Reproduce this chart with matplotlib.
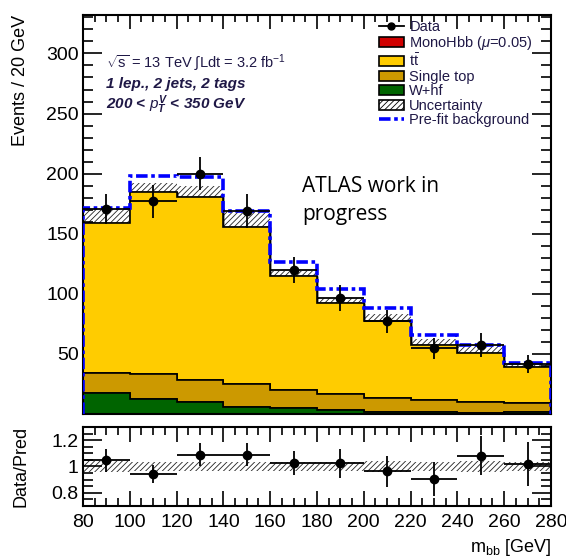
import matplotlib
matplotlib.use("Agg")
import matplotlib.pyplot as plt
from matplotlib.lines import Line2D
from matplotlib.patches import Patch
from matplotlib.ticker import MultipleLocator
import numpy as np

# =============================================================================
# DATA
# =============================================================================
bin_edges = [80, 100, 120, 140, 160, 180, 200, 220, 240, 260, 280]

w_hf = [17.8, 12.8, 10.0, 6.1, 4.7, 3.6, 1.7, 1.4, 1.2, 1.5]
single_top = [16.4, 20.2, 18.0, 18.6, 15.0, 13.1, 11.3, 10.3, 8.8, 7.4]
ttbar = [124.8, 152.0, 152.5, 130.8, 95.1, 75.6, 64.0, 45.8, 41.0, 30.3]
signal = [0.0, 0.0, 0.0, 0.0, 0.0, 0.0, 0.0, 0.0, 0.0, 0.0]
bkg_unc = [11.5, 7.0, 9.5, 12.5, 4.5, 4.5, 6.5, 5.0, 5.5, 3.0]

prefit_bkg = [171.4, 198.0, 197.5, 168.6, 126.5, 104.3, 88.0, 65.5, 57.3, 42.8]

data = [170.5, 177.0, 200.0, 169.0, 119.7, 96.4, 77.0, 54.7, 57.5, 41.2]
data_err = [12.8, 13.6, 14.0, 14.0, 10.8, 10.8, 9.7, 8.8, 9.7, 7.5]

ratio = [1.046, 0.944, 1.09, 1.09, 1.026, 1.026, 0.962, 0.903, 1.083, 1.02]
ratio_err = [0.087, 0.07, 0.085, 0.085, 0.09, 0.11, 0.115, 0.128, 0.15, 0.165]
ratio_unc = [0.04, 0.035, 0.035, 0.035, 0.035, 0.035, 0.04, 0.035, 0.04, 0.035]

# =============================================================================
# STYLE
# =============================================================================
plt.rcParams["font.family"] = ["Liberation Sans", "DejaVu Sans"]
plt.rcParams["mathtext.fontset"] = "custom"
plt.rcParams["mathtext.rm"] = "Liberation Sans"
plt.rcParams["mathtext.it"] = "Liberation Sans:italic"
plt.rcParams["mathtext.bf"] = "Liberation Sans:bold:italic"
plt.rcParams["hatch.linewidth"] = 0.6

TEXT_COL = "#1f1846"
C_TTBAR = "#ffcc00"
C_STOP = "#cc9900"
C_WHF = "#006400"
C_SIG = "#d00000"
C_PREFIT = "#0000ff"
PREFIT_LS = (0, (3.2, 1.0, 1.0, 1.0))
HATCH = "//////"

edges = np.array(bin_edges, dtype=float)
centers = 0.5 * (edges[:-1] + edges[1:])
half_w = 0.5 * np.diff(edges)

w_hf = np.array(w_hf)
single_top = np.array(single_top)
ttbar = np.array(ttbar)
signal = np.array(signal)
bkg_unc = np.array(bkg_unc)

cum_whf = w_hf
cum_stop = cum_whf + single_top
cum_tt = cum_stop + ttbar
total = cum_tt + signal

# =============================================================================
# FIGURE
# =============================================================================
fig = plt.figure(figsize=(5.66, 5.58), dpi=100)
ax = fig.add_axes([0.1466, 0.2581, 0.8269, 0.7150])
rax = fig.add_axes([0.1466, 0.0932, 0.8269, 0.1416])

# ---- uncertainty band (lower half hidden by the stack) ----
ax.stairs(total + bkg_unc, edges, baseline=total - bkg_unc, fill=True,
          facecolor="white", edgecolor="#222222", hatch=HATCH, linewidth=0,
          zorder=1)

# ---- stacked backgrounds ----
ax.stairs(total, edges, baseline=cum_tt, fill=True, facecolor=C_SIG,
          edgecolor="black", linewidth=1.0, zorder=2)
ax.stairs(cum_tt, edges, baseline=cum_stop, fill=True, facecolor=C_TTBAR,
          edgecolor="black", linewidth=1.2, zorder=2)
ax.stairs(cum_stop, edges, baseline=cum_whf, fill=True, facecolor=C_STOP,
          edgecolor="black", linewidth=1.2, zorder=2)
ax.stairs(cum_whf, edges, baseline=0, fill=True, facecolor=C_WHF,
          edgecolor="black", linewidth=1.2, zorder=2)

# ---- pre-fit background ----
ax.stairs(prefit_bkg, edges, color=C_PREFIT, linewidth=2.6,
          linestyle=PREFIT_LS, zorder=3)

# ---- data ----
ax.errorbar(centers, data, xerr=half_w, yerr=data_err, fmt="o", color="black",
            markersize=6, elinewidth=1.3, capsize=0, zorder=5)

ax.text(0.468, 0.571, "ATLAS work in", transform=ax.transAxes,
        fontsize=15, family=["Open Sans", "DejaVu Sans"], ha="left",
        va="center", color="black")
ax.text(0.468, 0.501, "progress", transform=ax.transAxes,
        fontsize=15, family=["Open Sans", "DejaVu Sans"], ha="left",
        va="center", color="black")

ax.text(0.050, 0.881, r"$\sqrt{\mathrm{s}}$ = 13 TeV $\int$Ldt = 3.2 fb$^{-1}$",
        transform=ax.transAxes, fontsize=10.5, color=TEXT_COL, va="center")
ax.text(0.050, 0.827, "1 lep., 2 jets, 2 tags", transform=ax.transAxes,
        fontsize=11, style="italic", weight="bold", color=TEXT_COL,
        va="center")
ax.text(0.050, 0.775, r"200 < $p_{\mathbf{T}}^{\mathbf{V}}$ < 350 GeV",
        transform=ax.transAxes, fontsize=11, style="italic", weight="bold",
        color=TEXT_COL, va="center")

handles = [
    Line2D([], [], color="black", marker="o", markersize=5, linewidth=1.3),
    Patch(facecolor=C_SIG, edgecolor="black", linewidth=1.2),
    Patch(facecolor=C_TTBAR, edgecolor="black", linewidth=1.2),
    Patch(facecolor=C_STOP, edgecolor="black", linewidth=1.2),
    Patch(facecolor=C_WHF, edgecolor="black", linewidth=1.2),
    Patch(facecolor="white", edgecolor="black", hatch=HATCH, linewidth=1.2),
    Line2D([], [], color=C_PREFIT, linewidth=2.6, linestyle=PREFIT_LS),
]
labels = ["Data", r"MonoHbb ($\mu$=0.05)", r"$\mathrm{t\bar{t}}$", "Single top",
          "W+hf", "Uncertainty", "Pre-fit background"]
ax.legend(handles, labels, loc="upper left", bbox_to_anchor=(0.610, 1.014),
          frameon=False, fontsize=10.5, labelcolor=TEXT_COL, handlelength=1.75,
          handleheight=0.7, handletextpad=0.35, labelspacing=0.035,
          borderpad=0.2)

# ---- main axes style ----
ax.set_xlim(80, 280)
ax.set_ylim(0, 332)
ax.set_yticks([50, 100, 150, 200, 250, 300])
ax.yaxis.set_minor_locator(MultipleLocator(10))
ax.xaxis.set_major_locator(MultipleLocator(20))
ax.xaxis.set_minor_locator(MultipleLocator(5))
ax.tick_params(axis="both", which="both", direction="in", top=True,
               right=True, labelbottom=False, labelsize=14, width=1.2)
ax.tick_params(axis="y", which="major", length=14, pad=3)
ax.tick_params(axis="y", which="minor", length=7)
ax.tick_params(axis="x", which="major", length=10)
ax.tick_params(axis="x", which="minor", length=5)
ax.set_ylabel("Events / 20 GeV", loc="top", fontsize=13)
ax.yaxis.set_label_coords(-0.115, 1.0)
for s in ax.spines.values():
    s.set_linewidth(1.5)

# ---- ratio panel ----
r_unc = np.array(ratio_unc)
rax.stairs(1 + r_unc, edges, baseline=1 - r_unc, fill=True,
           facecolor="white", edgecolor="#222222", hatch=HATCH, linewidth=0,
           zorder=1)
rax.errorbar(centers, ratio, xerr=half_w, yerr=ratio_err, fmt="o",
             color="black", markersize=6, elinewidth=1.3, capsize=0, zorder=5)
rax.set_xlim(80, 280)
rax.set_ylim(0.7, 1.3)
rax.set_yticks([0.8, 1.0, 1.2])
rax.set_yticklabels(["0.8", "1", "1.2"])
rax.yaxis.set_minor_locator(MultipleLocator(0.05))
rax.xaxis.set_major_locator(MultipleLocator(20))
rax.xaxis.set_minor_locator(MultipleLocator(5))
rax.tick_params(axis="both", which="both", direction="in", top=True,
                right=True, labelsize=14, width=1.2)
rax.tick_params(axis="x", which="major", length=11, pad=6)
rax.tick_params(axis="x", which="minor", length=6)
rax.tick_params(axis="y", which="major", length=14, pad=3)
rax.tick_params(axis="y", which="minor", length=7)
rax.set_ylabel("Data/Pred", fontsize=13)
rax.yaxis.set_label_coords(-0.115, 0.5)
rax.set_xlabel(r"m$_{\mathrm{bb}}$ [GeV]", loc="right", fontsize=13)
for s in rax.spines.values():
    s.set_linewidth(1.5)

fig.savefig("out.png", dpi=100)
